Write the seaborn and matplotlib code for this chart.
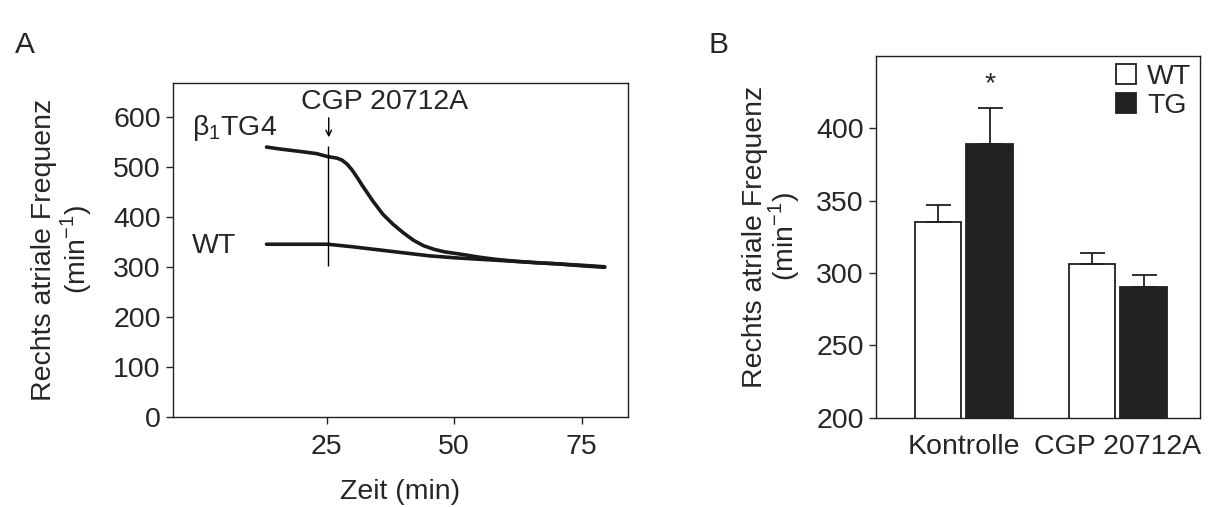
import matplotlib
matplotlib.use("Agg")
import matplotlib.pyplot as plt
import seaborn as sns
import pandas as pd

# Panel A: time course
zeit_tg = [13.2, 16, 20, 23, 25.2, 27, 28, 29, 30, 31, 32, 34, 36, 38, 40, 42, 44,
           46, 48, 50, 52, 55, 58, 62, 66, 70, 75, 79.5]
freq_tg = [539, 535, 530, 526, 520, 517, 513, 505, 493, 478, 462, 432, 405, 385, 368, 353, 342,
           335, 330, 327, 324, 319, 315, 311, 308, 306, 302, 299]
zeit_wt = [13.2, 20, 25.2, 30, 35, 40, 45, 50, 55, 60, 65, 70, 75, 79.5]
freq_wt = [345, 345, 345, 340, 334, 328, 322, 318, 315, 312, 309, 306, 303, 300]

# Panel B: means and SEM
gruppen = ["Kontrolle", "Kontrolle", "CGP 20712A", "CGP 20712A"]
genotyp = ["WT", "TG", "WT", "TG"]
mittel = [335.5, 388.7, 306.2, 290.3]
sem = [11.5, 25.0, 7.5, 8.0]

sns.set_style("ticks")
plt.rcParams["font.family"] = ["Liberation Sans", "DejaVu Sans"]
plt.rcParams["axes.linewidth"] = 1.0
plt.rcParams["xtick.major.size"] = 5
plt.rcParams["ytick.major.size"] = 5

fs = 20.5
fig = plt.figure(figsize=(12.28, 5.07), dpi=100)
axA = fig.add_axes([0.1406, 0.1775, 0.3705, 0.6588])
axB = fig.add_axes([0.7131, 0.1761, 0.2641, 0.714])

# ---- Panel A ----
linien = pd.concat([
    pd.DataFrame({"Zeit": zeit_tg, "Frequenz": freq_tg, "Gruppe": "TG"}),
    pd.DataFrame({"Zeit": zeit_wt, "Frequenz": freq_wt, "Gruppe": "WT"}),
])
sns.lineplot(data=linien, x="Zeit", y="Frequenz", units="Gruppe", estimator=None,
             color="#1a1a1a", lw=2.6, sort=False, ax=axA)
axA.vlines(25.2, 302, 541, color="black", lw=1.0)
axA.annotate("", xy=(25.4, 553), xytext=(25.4, 603),
             arrowprops=dict(arrowstyle="->", color="black", lw=1.0))
axA.text(36.4, 630, "CGP 20712A", ha="center", va="center", fontsize=fs)
axA.text(-1.5, 577, r"$\mathregular{\beta_1}$TG4", ha="left", va="center", fontsize=fs)
axA.text(-1.5, 342, "WT", ha="left", va="center", fontsize=fs)
axA.set_xlim(-5.2, 84)
axA.set_ylim(0, 667)
axA.set_xticks([25, 50, 75])
axA.set_yticks(range(0, 601, 100))
axA.tick_params(labelsize=fs, direction="out", width=1)
axA.tick_params(axis="x", pad=7)
axA.set_xlabel("Zeit (min)", fontsize=fs, labelpad=14)
axA.set_ylabel("Rechts atriale Frequenz\n(min$^{\\mathregular{-1}}$)", fontsize=fs,
               labelpad=14, linespacing=1.05)

# ---- Panel B ----
balken = pd.DataFrame({"Gruppe": gruppen, "Genotyp": genotyp, "Frequenz": mittel})
sns.barplot(data=balken, x="Gruppe", y="Frequenz", hue="Genotyp",
            palette={"WT": "white", "TG": "#231f20"}, edgecolor="#231f20",
            linewidth=1.3, width=0.67, gap=0.1, errorbar=None, ax=axB)
bars = [p for p in axB.patches if p.get_height() > 0][:4]
# patches come hue by hue: WT (Kontrolle, CGP), TG (Kontrolle, CGP)
ordnung = [0, 2, 1, 3]
for p, i in zip(bars, ordnung):
    xc = p.get_x() + p.get_width() / 2
    axB.errorbar(xc, mittel[i], yerr=[[0], [sem[i]]], color="#231f20",
                 lw=1.3, capsize=9, capthick=1.3)
    if i == 1:
        axB.text(xc, 430, "*", ha="center", va="center", fontsize=fs)
axB.set_ylim(200, 450)
axB.set_xlim(-0.572, 1.533)
axB.set_yticks(range(200, 401, 50))
axB.tick_params(axis="y", labelsize=fs, direction="out", width=1)
axB.tick_params(axis="x", labelsize=fs, length=0, pad=12)
axB.set_xlabel("")
axB.set_ylabel("Rechts atriale Frequenz\n(min$^{\\mathregular{-1}}$)", fontsize=fs,
               labelpad=10, linespacing=0.95)
leg = axB.legend(loc="upper right", frameon=False, fontsize=fs, handlelength=0.7,
                 handleheight=0.7, handletextpad=0.4, labelspacing=0.1,
                 borderaxespad=0.2, borderpad=0.1)

for ax in (axA, axB):
    for s in ax.spines.values():
        s.set_visible(True)
        s.set_color("#231f20")

fig.text(0.012, 0.895, "A", fontsize=fs + 1)
fig.text(0.577, 0.895, "B", fontsize=fs + 1)

fig.savefig("out.png", dpi=100)
